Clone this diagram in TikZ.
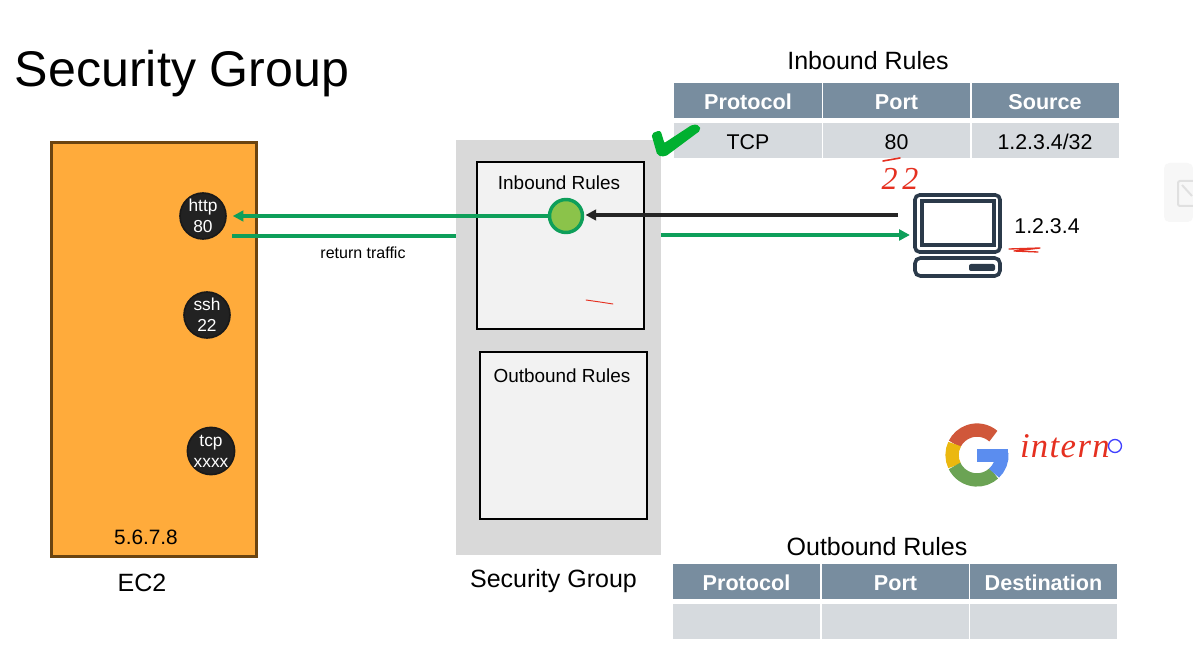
\documentclass[tikz,border=0pt]{standalone}
\usepackage{fontspec}
\setmainfont{Liberation Sans}
\newfontfamily\inkfont{Liberation Serif}
\usetikzlibrary{arrows.meta}
\definecolor{hdr}{HTML}{788D9F}
\definecolor{rowc}{HTML}{D6DADE}
\definecolor{ecfill}{HTML}{FFAB3B}
\definecolor{ecline}{HTML}{6B4410}
\definecolor{sgfill}{HTML}{D9D9D9}
\definecolor{boxfill}{HTML}{F2F2F2}
\definecolor{flow}{HTML}{0E9F5A}
\definecolor{okfill}{HTML}{8BC34A}
\definecolor{pcline}{HTML}{2B3A4A}
\definecolor{ink}{HTML}{E53020}
\definecolor{tick}{HTML}{00B030}
\definecolor{portfill}{HTML}{222222}
\definecolor{gred}{HTML}{D0573A}
\definecolor{gyel}{HTML}{EBB80F}
\definecolor{ggrn}{HTML}{6BA354}
\definecolor{gblu}{HTML}{5B8DEF}
\tikzset{
  x=0.75pt,y=-0.75pt,
  lab/.style={inner sep=0pt,outer sep=0pt,align=center,text=black},
  hcell/.style={fill=hdr,inner sep=0pt,minimum width=147*0.75pt,minimum height=35*0.75pt,text height=14pt,text depth=0pt,text=white,font=\fontsize{16.2pt}{18pt}\selectfont\bfseries},
  bcell/.style={fill=rowc,inner sep=0pt,minimum width=147*0.75pt,minimum height=35*0.75pt,text height=13pt,text depth=0pt,text=black,font=\fontsize{16pt}{18pt}\selectfont},
  port/.style={circle,fill=portfill,draw=black!90,line width=1.2pt,minimum size=46*0.75pt,inner sep=0pt,text=white,align=center,font=\fontsize{13pt}{15.6pt}\selectfont},
  rulebox/.style={draw=black,fill=boxfill,line width=2pt,inner sep=0pt,minimum width=167*0.75pt,minimum height=167*0.75pt},
  flowline/.style={draw=flow,line width=2.3pt},
  tip/.style={-{Triangle[length=8pt,width=8pt]}},
  inkline/.style={draw=ink,line width=0.9pt,line cap=round,line join=round},
  gseg/.style={line width=10pt},
}
\begin{document}
\begin{tikzpicture}
\useasboundingbox (0,0) rectangle (1193,652);
\fill[white] (0,0) rectangle (1193,652);

% title
\node[lab,anchor=west,font=\fontsize{37.6pt}{40pt}\selectfont] (title) at (15,74) {Security Group};

% side panel of the viewer
\fill[black!3,rounded corners=4pt] (1164,163) rectangle (1193,222);
\draw[black!12,line width=1.5pt,rounded corners=1.5pt] (1193,181) -- (1178,181) -- (1178,206) -- (1193,206);
\draw[black!12,line width=1.5pt] (1182,185) -- (1192,196);

% EC2
\node[draw=ecline,fill=ecfill,line width=2.2pt,inner sep=0pt,minimum width=205*0.75pt,minimum height=414*0.75pt] (ec2) at (154,349.5) {};
\node[lab,font=\fontsize{15.6pt}{18pt}\selectfont] (ip) at (146,537) {5.6.7.8};
\node[lab,font=\fontsize{18.75pt}{22pt}\selectfont] (ec2lab) at (142,583) {EC2};
\node[port] (http) at (203,216) {http\\80};
\node[port] (ssh) at (207,315) {ssh\\22};
\node[port] (tcp) at (211,451) {tcp\\xxxx};

% Security group
\node[fill=sgfill,inner sep=0pt,minimum width=205*0.75pt,minimum height=415*0.75pt] (sg) at (558.5,347.5) {};
\node[lab,font=\fontsize{18.75pt}{22pt}\selectfont] (sglab) at (553.5,581) {Security Group};
\node[rulebox] (inbox) at (560.5,245.5) {};
\node[rulebox] (outbox) at (563.5,435.5) {};
\node[lab,font=\fontsize{14.2pt}{17pt}\selectfont] (inlab) at (559,183) {Inbound Rules};
\node[lab,font=\fontsize{14.2pt}{17pt}\selectfont] (outlab) at (562,376) {Outbound Rules};
\node[circle,fill=okfill,draw=flow,line width=2.6pt,minimum size=33*0.75pt,inner sep=0pt] (hit) at (566,216) {};
\draw[inkline,line width=0.7pt] (586,300) -- (600,302) -- (613,304);

% tables
\node[lab,font=\fontsize{18.75pt}{22pt}\selectfont] (intitle) at (868,61) {Inbound Rules};
\node[hcell,minimum width=148*0.75pt] (ia) at (748,100.5) {Protocol};
\node[hcell] (ib) at (896.5,100.5) {Port};
\node[hcell] (ic) at (1045,100.5) {Source};
\node[bcell,minimum width=148*0.75pt] (ja) at (748,140.5) {TCP};
\node[bcell] (jb) at (896.5,140.5) {80};
\node[bcell] (jc) at (1045,140.5) {1.2.3.4/32};

\node[lab,font=\fontsize{18.75pt}{22pt}\selectfont] (outtitle) at (877,547) {Outbound Rules};
\node[hcell] (oa) at (746.5,581) {Protocol};
\node[hcell] (ob) at (895.5,581) {Port};
\node[hcell] (oc) at (1043.5,581) {Destination};
\node[bcell] (pa) at (746.5,621.5) {};
\node[bcell] (pb) at (895.5,621.5) {};
\node[bcell] (pc) at (1043.5,621.5) {};

% check mark
\fill[tick,draw=tick,line width=1pt,line join=round,rounded corners=1.5pt] (652,134) -- (660,131) -- (664,144) -- (693,125) -- (699,126) -- (700,130) -- (665,156) -- (658,155) -- cycle;

% computer
\node[inner sep=0pt,minimum width=87*0.75pt,minimum height=84*0.75pt] (host) at (957,235) {};
\draw[pcline,line width=2.7pt,rounded corners=3.5pt] (915,195) rectangle (1000,252);
\draw[pcline,line width=2.4pt] (922,201) rectangle (994,245);
\draw[pcline,line width=2.7pt,rounded corners=4pt] (915,258) rectangle (1000,276);
\fill[pcline,rounded corners=1.5pt] (969,264) rectangle (995,271);
\node[lab,font=\fontsize{16pt}{18pt}\selectfont] (hostip) at (1047,226) {1.2.3.4};
\draw[inkline,line width=1pt] (1009,249) -- (1040,248) -- (1014,251) -- (1038,252);

% handwritten 22
\node[lab,text=ink,font=\inkfont\itshape\fontsize{24pt}{26pt}\selectfont\addfontfeature{LetterSpace=15}] (hand) at (900,179) {22};
\draw[inkline,line width=1.2pt] (883,161) -- (900,158);

% connectors
\coordinate (reqstart) at (898,215);
\coordinate (retstart) at (232,236);
\coordinate (backy) at (661,235);
\draw[draw=black!85,line width=2.3pt,tip,shorten >=1pt] (reqstart) -- (hit.east |- reqstart);
\draw[flowline,tip,shorten >=4.5pt] (hit.west) -- (http.east);
\draw[flowline] (retstart) -- (sg.west |- retstart);
\draw[flowline,tip,shorten >=2.5pt] (backy) -- (host.west |- backy);
\node[lab,font=\fontsize{12pt}{14pt}\selectfont] (ret) at (363,253) {return traffic};

% Google mark
\coordinate (g) at (977,455);
\draw[gseg,draw=gred] (g) ++(49:18.7pt) arc[start angle=49,end angle=154,radius=18.7pt];
\draw[gseg,draw=gyel] (g) ++(154:18.7pt) arc[start angle=154,end angle=206,radius=18.7pt];
\draw[gseg,draw=ggrn] (g) ++(206:18.7pt) arc[start angle=206,end angle=313,radius=18.7pt];
\draw[gseg,draw=gblu] (g) ++(313:18.7pt) arc[start angle=313,end angle=365,radius=18.7pt];
\fill[gblu] (977,449) rectangle (1008,462);

% handwritten intern
\node[lab,anchor=west,text=ink,font=\inkfont\itshape\fontsize{26pt}{28pt}\selectfont\addfontfeature{LetterSpace=4}] (intern) at (1020,446) {intern};
\node[circle,draw=blue!75!white,line width=1pt,minimum size=13*0.75pt,inner sep=0pt] (pen) at (1115,446) {};
\end{tikzpicture}
\end{document}
